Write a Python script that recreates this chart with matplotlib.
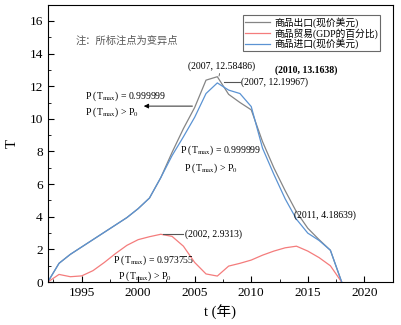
import matplotlib
matplotlib.use("Agg")
import matplotlib.pyplot as plt
from matplotlib.ticker import MultipleLocator

plt.rcParams["font.family"] = ["Liberation Serif", "Noto Sans CJK SC"]
plt.rcParams["mathtext.fontset"] = "stix"

years = list(range(1992, 2019))
export_usd = [0, 1.15, 1.7, 2.15, 2.6, 3.05, 3.5, 3.95, 4.5, 5.15, 6.4, 7.95,
              9.4, 10.7, 12.37, 12.58, 11.5, 11.0, 10.55, 8.6, 7.0, 5.6,
              4.3, 3.3, 2.6, 1.95, 0]
trade_gdp = [0, 0.47, 0.33, 0.38, 0.7, 1.2, 1.75, 2.25, 2.6, 2.78, 2.93, 2.8,
             2.2, 1.2, 0.5, 0.37, 0.98, 1.15, 1.35, 1.65, 1.9, 2.1,
             2.2, 1.9, 1.5, 1.0, 0]
import_usd = [0, 1.15, 1.7, 2.15, 2.6, 3.05, 3.5, 3.95, 4.5, 5.15, 6.4, 7.75,
              8.9, 10.1, 11.55, 12.2, 11.76, 11.55, 10.75, 8.2, 6.6, 5.1,
              3.85, 3.0, 2.55, 1.95, 0]
labels = ["商品出口(现价美元)", "商品贸易(GDP的百分比)", "商品进口(现价美元)"]

fig = plt.figure(figsize=(4.01, 3.25), dpi=100)
ax = fig.add_axes([0.119, 0.132, 0.860, 0.854])

ax.plot(years, export_usd, color="#858585", lw=0.9, label=labels[0])
ax.plot(years, trade_gdp, color="#f47c7c", lw=0.9, label=labels[1])
ax.plot(years, import_usd, color="#5b93d3", lw=0.9, label=labels[2])

ax.set_xlim(1992, 2022.5)
ax.set_ylim(0, 17)
ax.xaxis.set_major_locator(MultipleLocator(5))
ax.xaxis.set_minor_locator(MultipleLocator(2.5))
ax.yaxis.set_major_locator(MultipleLocator(2))
ax.yaxis.set_minor_locator(MultipleLocator(1))
ax.tick_params(which="both", direction="in", labelsize=9.5)
ax.tick_params(which="major", length=4)
ax.tick_params(which="minor", length=2)
ax.set_xlabel("t (年)", fontsize=10.5, labelpad=4)
ax.set_ylabel("T", fontsize=10.5, labelpad=8)

leg = ax.legend(loc="upper right", bbox_to_anchor=(0.963, 0.962), fontsize=7,
                frameon=True, fancybox=False, borderaxespad=0, borderpad=0.2,
                labelspacing=0.0, handlelength=2.6, handletextpad=0.4)
leg.get_frame().set_edgecolor("#444444")
leg.get_frame().set_linewidth(0.8)

fs = 7
ax.text(1999.0, 14.8, "注：所标注点为变异点", fontsize=7.4, color="#555555",
        ha="center", va="center")

ax.annotate("(2007, 12.58486)", xy=(2007.15, 12.62), xytext=(2007.34, 13.24),
            fontsize=fs, ha="center", va="center",
            arrowprops=dict(arrowstyle="-", color="#555555", lw=0.6,
                            shrinkA=3, shrinkB=0))
ax.plot([2007.6, 2009.0], [12.25, 12.25], color="#555555", lw=0.8)
ax.text(2009.05, 12.25, "(2007, 12.19967)", fontsize=fs, va="center")
ax.text(2014.9, 13.0, "(2010, 13.1638)", fontsize=fs, fontweight="bold",
        ha="center", va="center")

ax.text(1995.3, 11.4, r"P (T$_{\rm max}$) = 0.999999", fontsize=fs, va="center")
ax.text(1995.3, 10.42, r"P (T$_{\rm max}$) > P$_0$", fontsize=fs, va="center")
ax.annotate("", xy=(2000.5, 10.78), xytext=(2004.8, 10.78),
            arrowprops=dict(arrowstyle="-|>", color="black", lw=0.6,
                            mutation_scale=7, shrinkA=0, shrinkB=0))

ax.text(2003.7, 8.09, r"P (T$_{\rm max}$) = 0.999999", fontsize=fs, va="center")
ax.text(2004.06, 6.99, r"P (T$_{\rm max}$) > P$_0$", fontsize=fs, va="center")

ax.plot([2002.2, 2004.0], [2.94, 2.94], color="#555555", lw=0.8)
ax.text(2004.15, 2.94, "(2002, 2.9313)", fontsize=fs, va="center")
ax.text(1997.75, 1.35, r"P (T$_{\rm max}$) = 0.973755", fontsize=fs, va="center")
ax.text(1998.2, 0.37, r"P (T$_{\rm max}$) > P$_0$", fontsize=fs, va="center")

ax.text(2013.74, 4.1, "(2011, 4.18639)", fontsize=fs, va="center")

fig.savefig("out.png", dpi=100)
